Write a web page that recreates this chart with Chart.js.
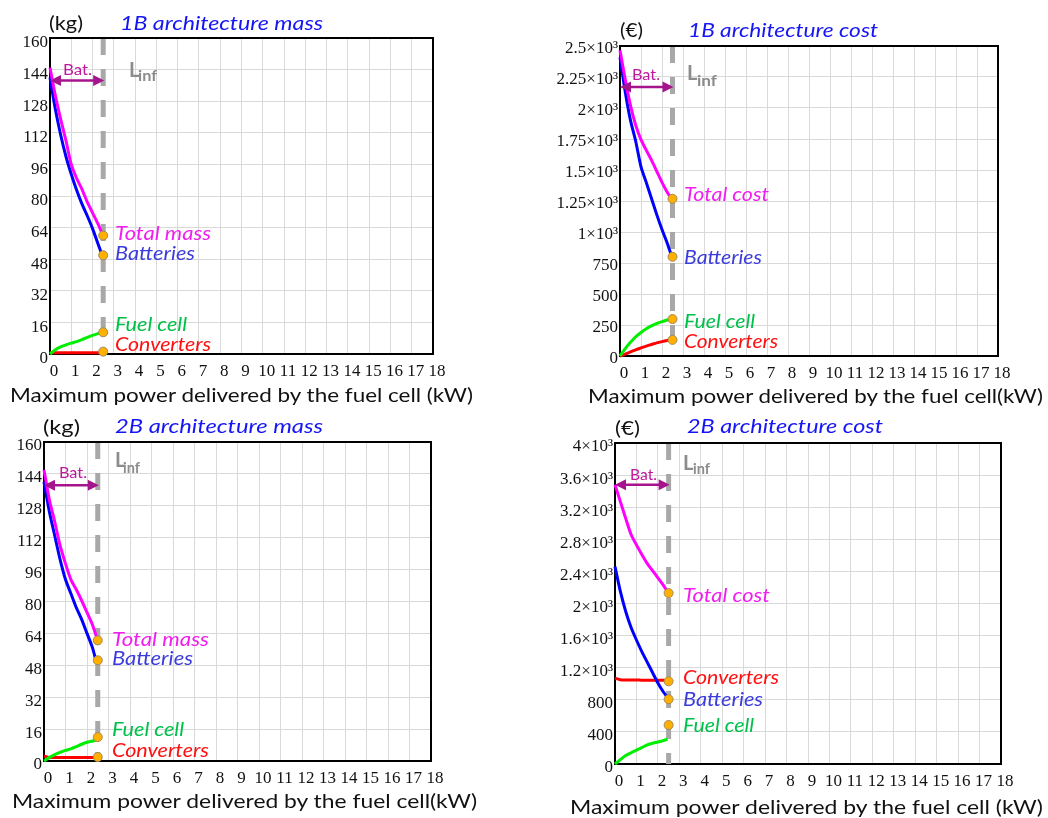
<!DOCTYPE html>
<html>
<head>
<meta charset="utf-8">
<script src="https://cdn.jsdelivr.net/npm/chart.js@4"></script>
<style>
  html, body { margin: 0; padding: 0; background: #fff; }
  body { width: 1048px; height: 818px; position: relative; overflow: hidden; }
  canvas { position: absolute; }
  .t { position: absolute; white-space: nowrap; line-height: normal; transform-origin: 0 0; }
</style>
</head>
<body>
<script>
// ---------- values ----------
const powerKW = [0, 0.25, 0.5, 0.75, 1, 1.25, 1.5, 1.75, 2, 2.25, 2.45];
const limitKW = 2.5;                      // L_inf
const xTickLabels = ['0','1','2','3','4','5','6','7','8','9','10','11','12','13','14','15','16','17','18'];

// 1B architecture mass (kg)
const mass1BTotal      = [145, 131, 119, 108, 96, 89, 83.5, 77, 71.5, 66, 61];
const mass1BBatteries  = [140, 124, 111, 100, 91, 83, 76, 70, 63.5, 56, 50];
const mass1BFuelCell   = [0, 2.2, 3.6, 4.6, 5.5, 6.3, 7.3, 8.4, 9.4, 10.3, 11];
const mass1BConverters = [0.6, 0.6, 0.6, 0.6, 0.6, 0.6, 0.6, 0.6, 0.6, 0.6, 0.6];
const mass1BAtLimit    = [60, 50, 11, 1.2];        // total, batteries, fuel cell, converters

// 1B architecture cost (€)
const cost1BTotal      = [2465, 2230, 2020, 1860, 1745, 1660, 1580, 1490, 1400, 1320, 1265];
const cost1BBatteries  = [2410, 2130, 1900, 1730, 1525, 1400, 1270, 1140, 1020, 910, 810];
const cost1BFuelCell   = [0, 60, 110, 155, 190, 220, 243, 262, 277, 290, 298];
const cost1BConverters = [0, 15, 33, 50, 65, 80, 93, 106, 116, 125, 132];
const cost1BAtLimit    = [1268, 800, 298, 130];

// 2B architecture mass (kg)
const mass2BTotal      = [146, 131, 120, 108, 99, 91, 86, 80.5, 74.5, 68.5, 62];
const mass2BBatteries  = [140, 125, 113, 101, 91, 84, 77, 71, 64, 57, 49];
const mass2BFuelCell   = [0, 1.8, 3.2, 4.3, 5.3, 6.1, 7.2, 8.4, 9.4, 10, 10.6];
const mass2BConverters = [2.5, 1.8, 1.8, 1.8, 1.8, 1.8, 1.8, 1.8, 1.8, 1.8, 1.8];
const mass2BAtLimit    = [60.5, 50.5, 12, 2];

// 2B architecture cost (€)
const cost2BTotal      = [3480, 3270, 3060, 2860, 2730, 2610, 2500, 2410, 2320, 2230, 2150];
const cost2BBatteries  = [2460, 2150, 1900, 1700, 1545, 1400, 1270, 1140, 1010, 900, 830];
const cost2BFuelCell   = [0, 55, 105, 140, 172, 205, 238, 258, 274, 292, 310];
const cost2BConverters = [1070, 1050, 1047, 1046, 1046, 1045, 1045, 1044, 1044, 1043, 1043];
const cost2BAtLimit    = [2130, 807, 486, 1030];

// y tick labels
const massTickLabels   = ['0','16','32','48','64','80','96','112','128','144','160'];
const cost1BTickLabels = ['0','250','500','750','1×10³','1.25×10³','1.5×10³','1.75×10³','2×10³','2.25×10³','2.5×10³'];
const cost2BTickLabels = ['0','400','800','1.2×10³','1.6×10³','2×10³','2.4×10³','2.8×10³','3.2×10³','3.6×10³','4×10³'];

// battery range arrow level on each panel (axis units)
const batteryArrowLevel = [138.5, 2170, 138.3, 3480];

// ---------- styling ----------
const SERIF = "'Liberation Serif', 'DejaVu Serif', serif";
Chart.defaults.font.family = SERIF;
const lineColors = ['#ff00ff', '#0000ff', '#00ee00', '#ff0000'];
const gridColor = '#d9d9d9';
const tickFont = { family: SERIF, size: 17 };

const panels = [
  { area: { l: 50,  t: 38,  r: 433,  b: 354 }, yAxisW: 50, yMax: 160,  yStep: 16,  yLabels: massTickLabels,   yOff: 5,
    series: [mass1BTotal, mass1BBatteries, mass1BFuelCell, mass1BConverters], ends: mass1BAtLimit, arrow: batteryArrowLevel[0] },
  { area: { l: 620, t: 46,  r: 998,  b: 356 }, yAxisW: 80, yMax: 2500, yStep: 250, yLabels: cost1BTickLabels, yOff: 3,
    series: [cost1BTotal, cost1BBatteries, cost1BFuelCell, cost1BConverters], ends: cost1BAtLimit, arrow: batteryArrowLevel[1] },
  { area: { l: 44,  t: 442, r: 431,  b: 761 }, yAxisW: 44, yMax: 160,  yStep: 16,  yLabels: massTickLabels,   yOff: 4,
    series: [mass2BTotal, mass2BBatteries, mass2BFuelCell, mass2BConverters], ends: mass2BAtLimit, arrow: batteryArrowLevel[2] },
  { area: { l: 615, t: 443, r: 1001, b: 764 }, yAxisW: 70, yMax: 4000, yStep: 400, yLabels: cost2BTickLabels, yOff: 4,
    series: [cost2BTotal, cost2BBatteries, cost2BFuelCell, cost2BConverters], ends: cost2BAtLimit, arrow: batteryArrowLevel[3] }
];

function framePlugin(p) {
  return {
    id: 'frame',
    afterDatasetsDraw(chart) {
      const { ctx, scales: { x, y } } = chart;
      const yy = y.getPixelForValue(p.arrow);
      const x0 = x.getPixelForValue(0);
      const x1 = x.getPixelForValue(limitKW) + 1;
      ctx.save();
      ctx.strokeStyle = ctx.fillStyle = '#a5148c';
      ctx.lineWidth = 2.5;
      ctx.beginPath(); ctx.moveTo(x0 + 8, yy); ctx.lineTo(x1 - 8, yy); ctx.stroke();
      ctx.beginPath(); ctx.moveTo(x0, yy); ctx.lineTo(x0 + 11, yy - 5.5); ctx.lineTo(x0 + 11, yy + 5.5); ctx.closePath(); ctx.fill();
      ctx.beginPath(); ctx.moveTo(x1, yy); ctx.lineTo(x1 - 11, yy - 5.5); ctx.lineTo(x1 - 11, yy + 5.5); ctx.closePath(); ctx.fill();
      ctx.restore();
    },
    afterDraw(chart) {
      const { ctx, chartArea: a } = chart;
      ctx.save();
      ctx.strokeStyle = '#000';
      ctx.lineWidth = 2;
      ctx.beginPath();
      ctx.moveTo(a.left - 1, a.top); ctx.lineTo(a.right, a.top); ctx.lineTo(a.right, a.bottom + 1);
      ctx.stroke();
      ctx.restore();
    }
  };
}

function makeChart(p) {
  const PT = 16, PR = 22, XH = 34;
  const W = p.area.r - p.area.l, H = p.area.b - p.area.t;
  const c = document.createElement('canvas');
  c.width = W + p.yAxisW + PR;
  c.height = H + PT + XH;
  c.style.left = (p.area.l - p.yAxisW) + 'px';
  c.style.top = (p.area.t - PT) + 'px';
  document.body.appendChild(c);

  const datasets = [];
  datasets.push({
    data: [{ x: limitKW, y: p.yMax }, { x: limitKW, y: 0 }],
    borderColor: '#a8a8a8', borderWidth: 5, borderDash: [17, 14], borderCapStyle: 'butt',
    pointRadius: 0, showLine: true, order: 10, clip: false
  });
  p.series.forEach((s, i) => datasets.push({
    data: powerKW.map((xv, k) => ({ x: xv, y: s[k] })),
    borderColor: lineColors[i], borderWidth: 3, pointRadius: 0, showLine: true,
    tension: 0.25, order: 5, clip: false
  }));
  datasets.push({
    data: p.ends.map(v => ({ x: limitKW, y: v })),
    pointRadius: 4.5, pointBackgroundColor: '#ffb000', pointBorderColor: '#a08a5a', pointBorderWidth: 1,
    showLine: false, order: 0, clip: false
  });

  const gridOpts = { color: gridColor, lineWidth: 1, drawTicks: false };
  const borderOpts = { color: '#000', width: 2 };

  return new Chart(c, {
    type: 'scatter',
    data: { datasets },
    options: {
      responsive: false, animation: false, devicePixelRatio: 1,
      layout: { padding: { top: PT, right: PR, left: 0, bottom: 0 } },
      plugins: { legend: { display: false }, tooltip: { enabled: false } },
      events: [],
      scales: {
        x: {
          type: 'linear', min: 0, max: 18,
          afterFit: s => { s.height = XH; },
          grid: gridOpts, border: borderOpts,
          ticks: { stepSize: 1, autoSkip: false, maxRotation: 0, padding: 7, labelOffset: 4,
                   color: '#111', font: tickFont, callback: (v, i) => xTickLabels[i] }
        },
        y: {
          type: 'linear', min: 0, max: p.yMax,
          afterFit: s => { s.width = p.yAxisW; },
          grid: gridOpts, border: borderOpts,
          ticks: { stepSize: p.yStep, autoSkip: false, padding: 2, labelOffset: p.yOff,
                   color: '#111', font: tickFont, callback: (v, i) => p.yLabels[i] }
        }
      }
    },
    plugins: [framePlugin(p)]
  });
}

panels.forEach(makeChart);

// ---------- text ----------
const BLUE = '#1515f5', MAG = '#f01ef0', BATT = '#3c3cdc', FC = '#00c04a', CONV = '#ff1010', GREY = '#8c8c8c', BAT = '#c0189c', INK = '#111';
const xTitleA = 'Maximum power delivered by the fuel cell (kW)';
const xTitleB = 'Maximum power delivered by the fuel cell(kW)';

// [text, left, baseline, size, width, color, italic, bold]
const textItems = [
  ['(kg)', 49, 30, 20, 34, INK],
  ['1B architecture mass', 120, 30, 19, 203, BLUE, true],
  [xTitleA, 10, 402, 19, 463, INK],
  ['Total mass', 115, 240, 19, 96, MAG, true],
  ['Batteries', 115, 260, 19, 80, BATT, true],
  ['Fuel cell', 115, 331, 19, 72, FC, true],
  ['Converters', 115, 350.5, 19, 96, CONV, true],
  ['Bat.', 63, 75, 15, 29, BAT],
  ['L', 129, 77, 20, 0, GREY, false, true],
  ['inf', 138, 81, 15, 19, GREY, false, true],

  ['(€)', 620, 37, 20, 23, INK],
  ['1B architecture cost', 688, 37, 19, 190, BLUE, true],
  [xTitleB, 588, 403, 19, 455, INK],
  ['Total cost', 684, 200.5, 19, 85, MAG, true],
  ['Batteries', 684, 263.5, 19, 78, BATT, true],
  ['Fuel cell', 684, 328, 19, 71, FC, true],
  ['Converters', 684, 347.5, 19, 94, CONV, true],
  ['Bat.', 632, 80, 15, 28, BAT],
  ['L', 687, 80, 20, 0, GREY, false, true],
  ['inf', 697, 86, 15, 20, GREY, false, true],

  ['(kg)', 43, 434, 20, 37, INK],
  ['2B architecture mass', 115, 432.5, 19, 208, BLUE, true],
  [xTitleB, 12, 808, 19, 465, INK],
  ['Total mass', 112, 646, 19, 97, MAG, true],
  ['Batteries', 112, 665, 19, 81, BATT, true],
  ['Fuel cell', 112, 736, 19, 72, FC, true],
  ['Converters', 112, 756.5, 19, 97, CONV, true],
  ['Bat.', 59, 478, 15, 28, BAT],
  ['L', 115, 467, 20, 0, GREY, false, true],
  ['inf', 123, 472.5, 15, 17, GREY, false, true],

  ['(€)', 615, 435, 20, 25, INK],
  ['2B architecture cost', 687, 433, 19, 196, BLUE, true],
  [xTitleA, 570, 814, 19, 473, INK],
  ['Total cost', 683, 601.5, 19, 87, MAG, true],
  ['Converters', 683, 683.5, 19, 96, CONV, true],
  ['Batteries', 683, 706, 19, 80, BATT, true],
  ['Fuel cell', 683, 731.5, 19, 71, FC, true],
  ['Bat.', 630, 480, 15, 27, BAT],
  ['L', 683, 470, 20, 0, GREY, false, true],
  ['inf', 693, 474, 15, 17, GREY, false, true]
];

textItems.forEach(([txt, left, base, size, width, color, italic, bold]) => {
  const el = document.createElement('div');
  el.className = 't';
  el.style.font = `${italic ? 'italic' : 'normal'} ${bold ? 'bold' : 'normal'} ${size}px Lato, "Open Sans", sans-serif`;
  el.style.color = color;
  const span = document.createElement('span');
  span.textContent = txt;
  const probe = document.createElement('span');
  probe.style.cssText = 'display:inline-block;width:0;height:0;vertical-align:baseline;';
  el.appendChild(span);
  el.appendChild(probe);
  el.style.left = left + 'px';
  el.style.top = '0px';
  document.body.appendChild(el);
  const baseOff = probe.offsetTop;
  el.style.top = (base - baseOff) + 'px';
  if (width) {
    const w = span.getBoundingClientRect().width;
    if (w > 0) el.style.transform = `scaleX(${(width / w).toFixed(4)})`;
  }
});
</script>
</body>
</html>
